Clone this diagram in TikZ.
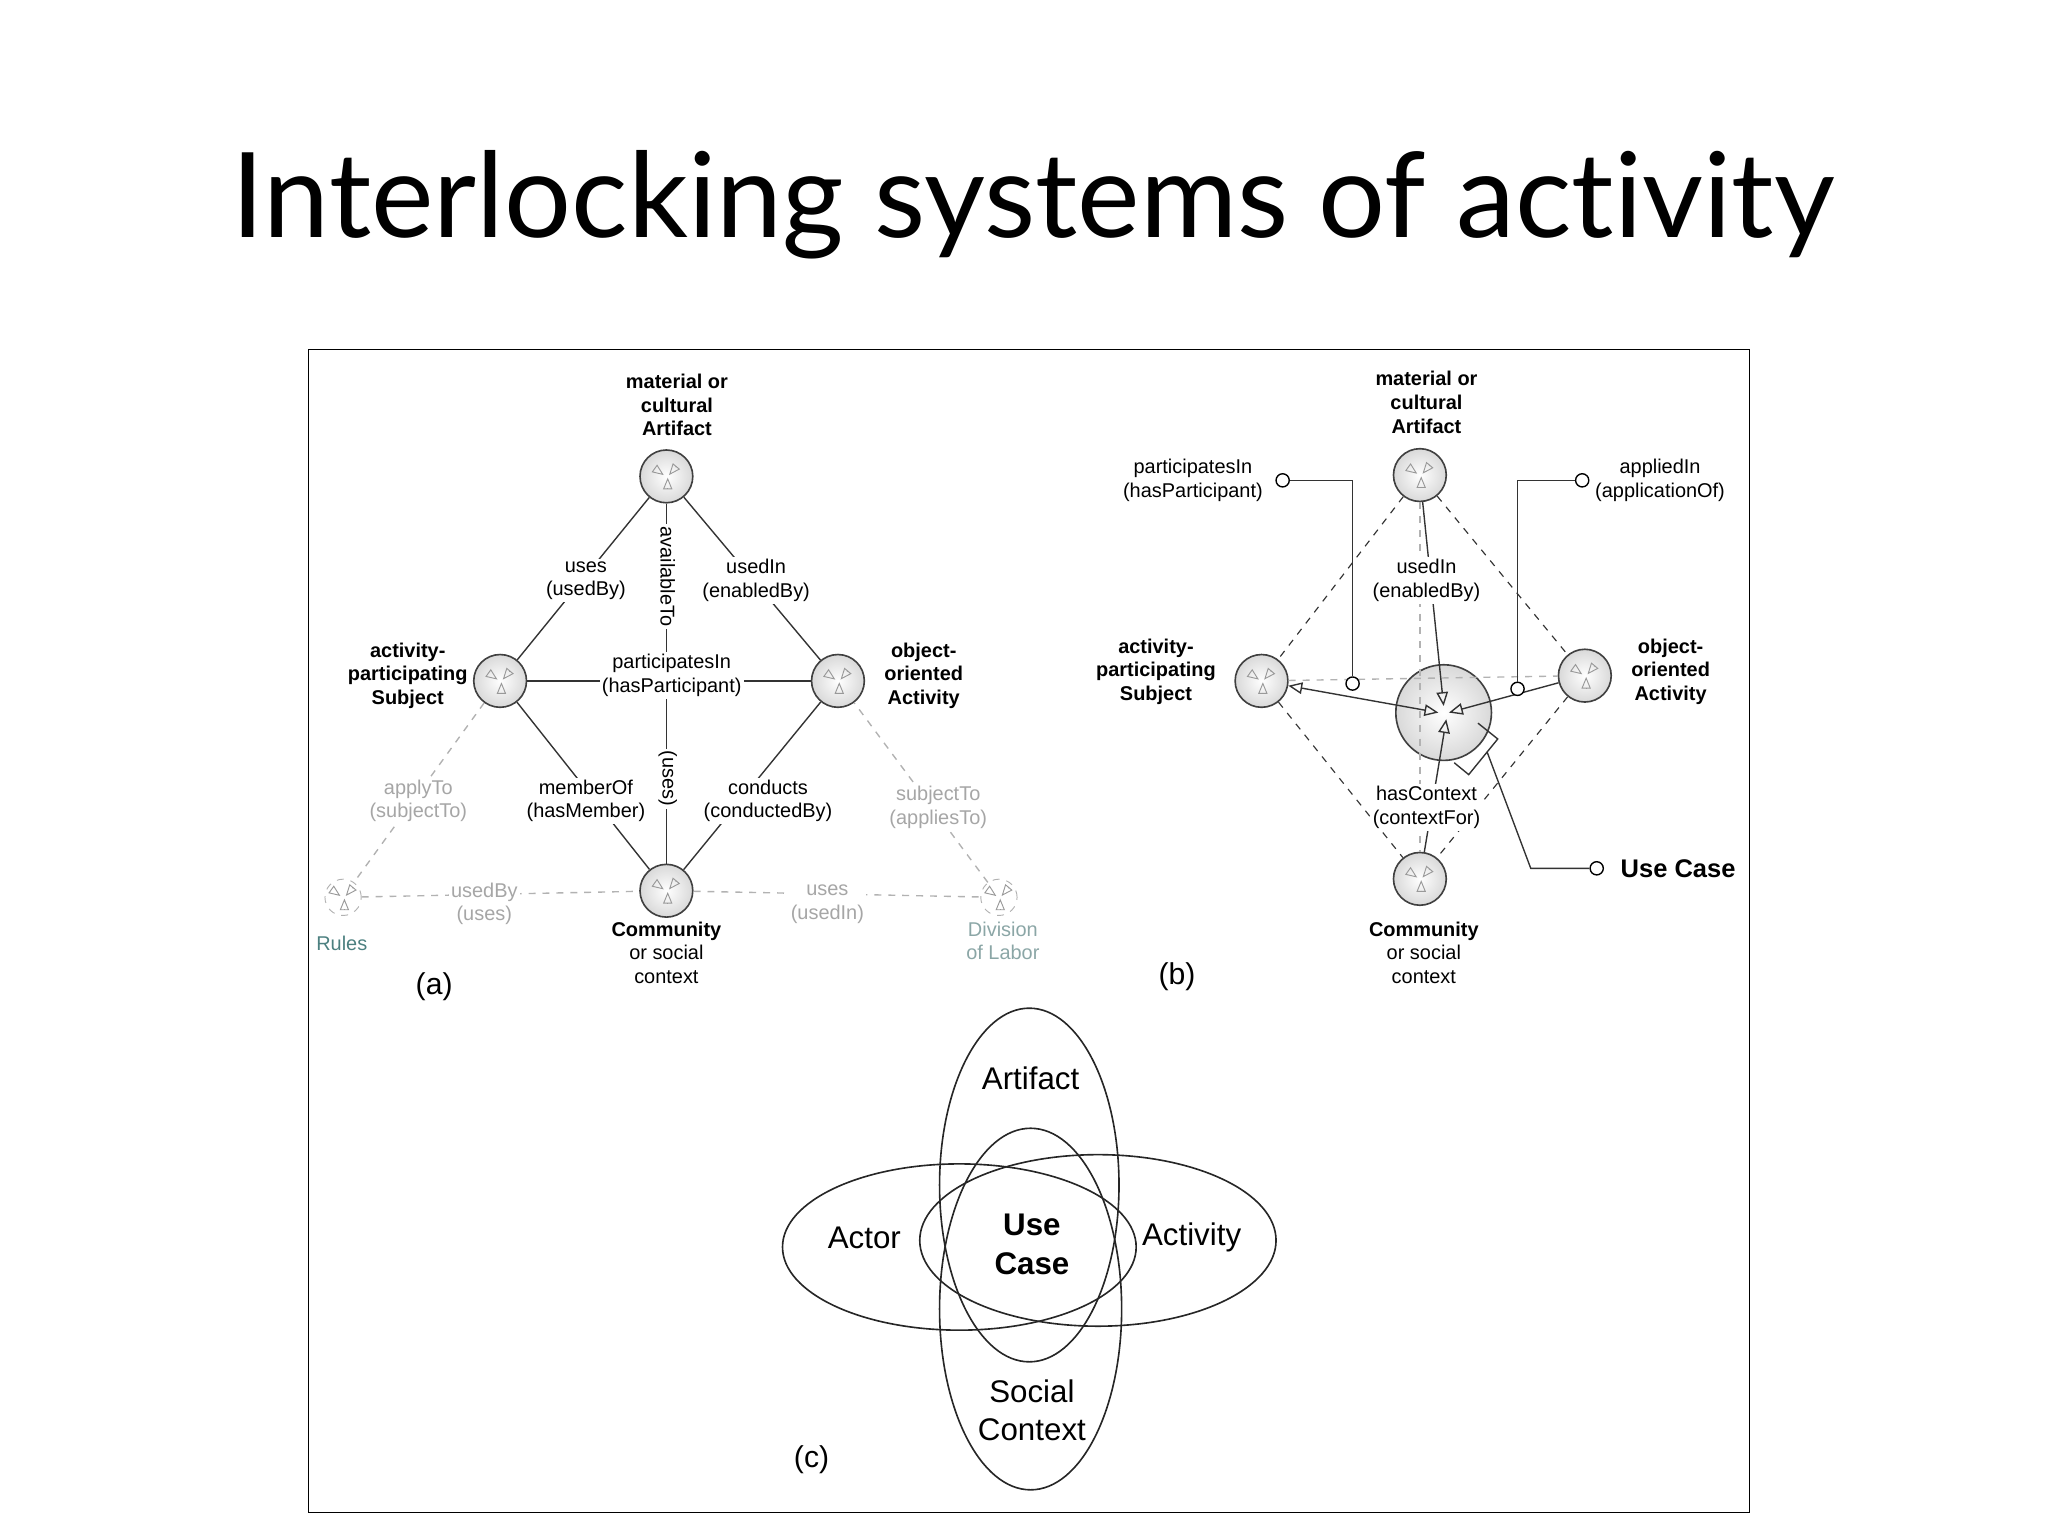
\documentclass[tikz,border=0pt]{standalone}
\usepackage{fontspec}
\setmainfont{Liberation Sans}
\newfontfamily\titlefont[Ligatures=NoCommon]{Lato}
\usetikzlibrary{arrows.meta,shapes.geometric}
\begin{document}
\begin{tikzpicture}[x=0.02cm,y=-0.02cm,
  lbl/.style={font=\fontsize{8.6}{10.2}\selectfont,align=center,inner sep=1pt},
  wlbl/.style={lbl,fill=white},
  glbl/.style={lbl,text=gray!70},
  bl/.style={font=\fontsize{8.6}{10.2}\selectfont\bfseries,align=center,inner sep=1pt},
  ent/.style={circle,draw=black!75,line width=0.7pt,inner sep=0pt,minimum size=0.8cm,inner color=white,outer color=gray!30},
  sment/.style={circle,draw=gray!60,dashed,inner sep=0pt,minimum size=0.55cm},
  rel/.style={draw=black!80,line width=0.6pt},
  grel/.style={draw=gray!60,dashed,line width=0.6pt},
  drel/.style={draw=black!80,dashed,line width=0.5pt},
  lolly/.style={circle,draw=black,fill=white,inner sep=0pt,minimum size=0.2cm,line width=0.6pt},
  tri/.style={-{Triangle[open,length=5pt,width=4pt]},gray!80,line width=0.4pt},
  ell/.style={draw=black!85,line width=0.7pt}
]
\useasboundingbox (0,0) rectangle (1552,1164);
\node[font=\titlefont\fontsize{51}{60}\selectfont] (title) at (783,155) {Interlocking systems of activity};
\draw[line width=0.6pt] (234,265) rectangle (1326,1146);

% ---------- (a)
\node[ent] (aA) at (505,361) {};
\node[ent] (aS) at (379,516) {};
\node[ent] (aO) at (635,516) {};
\node[ent] (aC) at (505,675) {};
\node[sment] (aR) at (260,680) {};
\node[sment] (aD) at (757,680) {};
\foreach \n in {aA,aS,aO,aC,aR,aD}{
  \draw[tri] ([shift={(-9,-6)}]\n.center) -- ([shift={(-2,-1)}]\n.center);
  \draw[tri] ([shift={(7,-7)}]\n.center) -- ([shift={(2,-1)}]\n.center);
  \draw[tri] ([shift={(1,9)}]\n.center) -- ([shift={(1,1)}]\n.center);
}
\draw[rel] (aA) -- (aS);
\draw[rel] (aA) -- (aO);
\draw[rel] (aS) -- (aC);
\draw[rel] (aO) -- (aC);
\draw[rel] (aS) -- (aO);
\draw[rel] (aA) -- (aC);
\draw[grel] (aS) -- (aR);
\draw[grel] (aR) -- (aC);
\draw[grel] (aC) -- (aD);
\draw[grel] (aD) -- (aO);
\node[bl] (aAl) at (513,307) {material or\\cultural\\Artifact};
\node[bl] (aSl) at (309,512) {activity-\\participating\\Subject};
\node[bl] (aOl) at (700,512) {object-\\oriented\\Activity};
\node[lbl] (aCl) at (505,722) {\textbf{Community}\\or social\\context};
\node[lbl,text=teal!40!gray] (aRl) at (259,715) {Rules};
\node[lbl,text=teal!30!gray!70] (aDl) at (760,713) {Division\\of Labor};
\node[font=\fontsize{13}{15}\selectfont] (aTag) at (329,748) {(a)};
\node[wlbl] (l1) at (444,440) {uses\\(usedBy)};
\node[wlbl] (l2) at (573,440) {usedIn\\(enabledBy)};
\node[wlbl,rotate=-90] (l3) at (506,437) {availableTo};
\node[wlbl] (l4) at (509,512) {participatesIn\\(hasParticipant)};
\node[wlbl,rotate=-90] (l5) at (506,590) {(uses)};
\node[wlbl] (l6) at (444,607) {memberOf\\(hasMember)};
\node[wlbl] (l7) at (582,607) {conducts\\(conductedBy)};
\node[glbl,fill=white] (l8) at (317,607) {applyTo\\(subjectTo)};
\node[glbl,fill=white] (l9) at (711,612) {subjectTo\\(appliesTo)};
\node[glbl,fill=white] (l10) at (367,685) {usedBy\\(uses)};
\node[glbl,fill=white] (l11) at (627,685) {uses\\(usedIn)};

% ---------- (b)
\node[ent] (bA) at (1076,360) {};
\node[ent] (bS) at (956,516) {};
\node[ent] (bO) at (1201,512) {};
\node[ent] (bC) at (1076,666) {};
\node[ent,minimum size=1.45cm] (bU) at (1094,540) {};
\foreach \n in {bA,bS,bO,bC}{
  \draw[tri] ([shift={(-9,-6)}]\n.center) -- ([shift={(-2,-1)}]\n.center);
  \draw[tri] ([shift={(7,-7)}]\n.center) -- ([shift={(2,-1)}]\n.center);
  \draw[tri] ([shift={(1,9)}]\n.center) -- ([shift={(1,1)}]\n.center);
}
\draw[drel] (bA) -- (bS);
\draw[drel] (bA) -- (bO);
\draw[drel] (bS) -- (bC);
\draw[drel] (bO) -- (bC);
\draw[grel] (bS) -- (bO);
\draw[grel] (bA) -- (bC);
\draw[rel,{Triangle[open,length=6pt,width=5pt]}-{Triangle[open,length=6pt,width=5pt]}] (bS) -- ([shift={(-4,0)}]bU.center);
\draw[rel,-{Triangle[open,length=6pt,width=5pt]}] (bO) -- ([shift={(4,0)}]bU.center);
\draw[rel,-{Triangle[open,length=6pt,width=5pt]}] (bA) -- ([shift={(0,-5)}]bU.center);
\draw[rel,-{Triangle[open,length=6pt,width=5pt]}] (bC) -- ([shift={(2,5)}]bU.center);
\node[lolly] (p1) at (972,364) {};
\node[lolly] (p2) at (1025,518) {};
\draw[rel] (p1) -- (1025,364) -- (p2);
\node[lolly] (q1) at (1199,364) {};
\node[lolly] (q2) at (1150,522) {};
\draw[rel] (q1) -- (1150,364) -- (q2);
\node[lolly] (u1) at (1210,658) {};
\coordinate (ub) at (1127,570);
\draw[rel] (u1) -- (1160,658) -- (ub);
\draw[rel] (1120,548) -- (1135,560) -- (1113,587) -- (1102,578);
\node[bl] (bAl) at (1081,305) {material or\\cultural\\Artifact};
\node[bl] (bSl) at (876,509) {activity-\\participating\\Subject};
\node[bl] (bOl) at (1266,509) {object-\\oriented\\Activity};
\node[lbl] (bCl) at (1079,722) {\textbf{Community}\\or social\\context};
\node[font=\fontsize{13}{15}\selectfont] (bTag) at (892,740) {(b)};
\node[lbl] (m1) at (904,364) {participatesIn\\(hasParticipant)};
\node[lbl] (m2) at (1258,364) {appliedIn\\(applicationOf)};
\node[wlbl] (m3) at (1081,440) {usedIn\\(enabledBy)};
\node[wlbl] (m4) at (1081,612) {hasContext\\(contextFor)};
\node[font=\fontsize{11}{13}\selectfont\bfseries,anchor=west] (m5) at (1222,658) {Use Case};

% ---------- (c)
\draw[ell] (780,898) ellipse (68 and 134);
\draw[ell] (781,992) ellipse (69 and 137);
\draw[ell] (727,945) ellipse (134 and 63);
\draw[ell] (832,940) ellipse (135 and 65);
\node[font=\fontsize{13.5}{16}\selectfont] (cA) at (781,817) {Artifact};
\node[font=\fontsize{13.5}{16}\selectfont] (cB) at (655,938) {Actor};
\node[font=\fontsize{13.5}{16}\selectfont] (cC) at (903,938) {Activity};
\node[font=\fontsize{13.5}{16.5}\selectfont\bfseries,align=center] (cU) at (782,943) {Use\\Case};
\node[font=\fontsize{13.5}{16.5}\selectfont,align=center] (cS) at (782,1069) {Social\\Context};
\node[font=\fontsize{13}{15}\selectfont] (cTag) at (615,1106) {(c)};
\end{tikzpicture}
\end{document}
